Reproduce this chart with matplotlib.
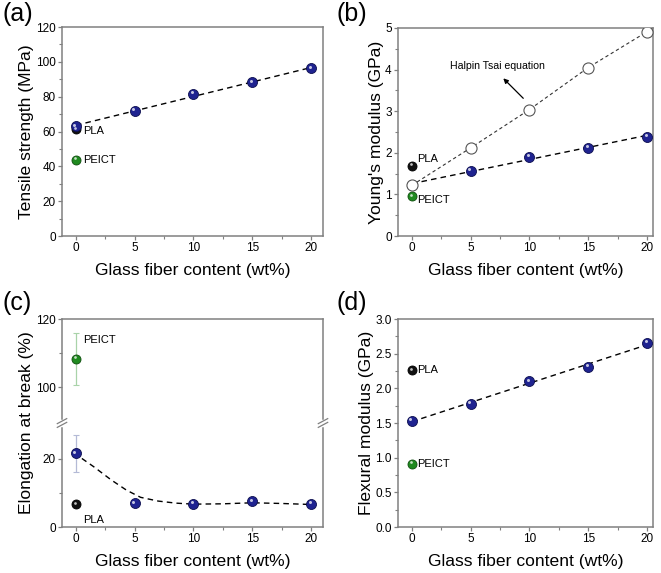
import numpy as np
import matplotlib
matplotlib.use("Agg")
import matplotlib.pyplot as plt
from matplotlib.transforms import offset_copy
from matplotlib.ticker import MultipleLocator, FixedLocator

plt.rcParams["font.family"] = ["Liberation Sans", "DejaVu Sans"]

# ---------- data ----------
gf = [0, 5, 10, 15, 20]

tensile = [62.9, 71.9, 81.5, 88.2, 96.2]
tensile_pla = 61.3
tensile_peict = 43.7

young = [1.22, 1.56, 1.91, 2.12, 2.39]
young_err = [0.0, 0.03, 0.04, 0.04, 0.08]
young_halpin = [1.22, 2.12, 3.04, 4.05, 4.91]
young_pla = 1.69
young_peict = 0.95

elong = [21.6, 6.9, 6.7, 7.5, 6.7]
elong_err = [5.4, 0.0, 0.0, 0.0, 0.0]
elong_pla = 6.7
elong_peict = 108.3
elong_peict_err = 7.6
# smooth guide line
elong_fit_x = [0.5, 1.5, 3, 4.3, 5.5, 7, 8.5, 10, 12.5, 15, 17.5, 20]
elong_fit_y = [20.1, 17.7, 13.8, 10.8, 8.7, 7.6, 7.0, 6.7, 6.8, 7.1, 6.9, 6.6]

flex = [1.53, 1.78, 2.10, 2.31, 2.65]
flex_pla = 2.26
flex_peict = 0.91

# ---------- styles ----------
BLUE = "#1f2390"
BLUE_EDGE = "#0d0f4f"
GREEN = "#1f8a1f"
GREEN_EDGE = "#0e4d0e"
BLACK = "#111111"
SPINE = "#808080"

fig = plt.figure(figsize=(6.61, 5.73), dpi=100)
W, H = 661, 573


def px_axes(left, top, right, bottom):
    return fig.add_axes([left / W, 1 - bottom / H, (right - left) / W, (bottom - top) / H])


def sphere(ax, x, y, color, edge, size=7.2, z=3):
    ax.plot(x, y, "o", ms=size, mfc=color, mec=edge, mew=0.6, ls="none", zorder=z)
    hl = offset_copy(ax.transData, fig=fig, x=-size * 0.15, y=size * 0.18, units="points")
    ax.plot(x, y, "o", ms=size * 0.3, mfc="white", mec="none", alpha=0.75,
            ls="none", zorder=z + 0.1, transform=hl)


def style(ax, xmax, ylabel):
    for s in ax.spines.values():
        s.set_color(SPINE)
        s.set_linewidth(1.1)
    ax.set_xlim(-1.19, xmax)
    ax.xaxis.set_major_locator(MultipleLocator(5))
    ax.xaxis.set_minor_locator(MultipleLocator(2.5))
    ax.tick_params(which="both", direction="out", color=SPINE, labelsize=8.5,
                   top=False, right=False, pad=1.5)
    ax.tick_params(which="major", length=3, width=0.9)
    ax.tick_params(which="minor", length=2, width=0.8)
    ax.set_xlabel("Glass fiber content (wt%)", fontsize=12.6, labelpad=6)
    ax.set_ylabel(ylabel, fontsize=12.6, labelpad=1)


lbl = dict(fontsize=8, va="center", ha="left", color="black")

# ---------- (a) tensile strength ----------
ax = px_axes(62, 27, 323, 236)
style(ax, 21.02, "Tensile strength (MPa)")
ax.set_ylim(0, 120)
ax.yaxis.set_major_locator(MultipleLocator(20))
ax.yaxis.set_minor_locator(MultipleLocator(10))
k = np.polyfit(gf, tensile, 1)
ax.plot(gf, np.polyval(k, gf), ls=(0, (4, 3)), color="black", lw=1.0, zorder=2)
sphere(ax, [0], [tensile_pla], BLACK, "black", size=6.5)
sphere(ax, gf, tensile, BLUE, BLUE_EDGE)
sphere(ax, [0], [tensile_peict], GREEN, GREEN_EDGE, size=6.5)
ax.text(0.6, 60.3, "PLA", **lbl)
ax.text(0.6, 43.6, "PEICT", **lbl)

# ---------- (b) Young's modulus ----------
ax = px_axes(398, 28, 653, 236)
style(ax, 20.51, "Young's modulus (GPa)")
ax.set_ylim(0, 5)
ax.yaxis.set_major_locator(MultipleLocator(1))
ax.yaxis.set_minor_locator(MultipleLocator(0.5))
k = np.polyfit(gf, young, 1)
ax.plot(gf, np.polyval(k, gf), ls=(0, (4, 3)), color="black", lw=1.0, zorder=2)
ax.plot(gf, young_halpin, ls=(0, (3, 2.5)), color="#333333", lw=0.8, zorder=2)
ax.errorbar(gf, young, yerr=young_err, fmt="none", ecolor="#b4bad6", elinewidth=0.8,
            capsize=2, capthick=0.8, zorder=2.5)
sphere(ax, gf, young, BLUE, BLUE_EDGE)
ax.plot(gf, young_halpin, "o", ms=8, mfc="white", mec="#555555", mew=0.8, zorder=4)
sphere(ax, [0], [young_pla], BLACK, "black", size=6.5)
sphere(ax, [0], [young_peict], GREEN, GREEN_EDGE, size=6.5)
ax.text(0.45, 1.84, "PLA", **lbl)
ax.text(0.45, 0.87, "PEICT", **lbl)
ax.annotate("", xy=(7.77, 3.79), xytext=(9.47, 3.31),
            arrowprops=dict(arrowstyle="-|>", color="black", lw=0.9,
                            mutation_scale=7, shrinkA=0, shrinkB=0))
ax.text(7.27, 4.09, "Halpin Tsai equation", fontsize=7.6, ha="center", va="center")

# ---------- (c) elongation at break (broken axis) ----------
BREAK_LO, BREAK_HI = 30.5, 89.5


def squash(v):
    v = np.asarray(v, dtype=float)
    return np.where(v <= BREAK_LO, v, v - (BREAK_HI - BREAK_LO))


ax = px_axes(62, 319, 323, 527)
style(ax, 21.02, "Elongation at break (%)")
ax.set_ylim(0, float(squash(120)))
ax.yaxis.set_major_locator(FixedLocator(squash([0, 20, 100, 120])))
ax.yaxis.set_minor_locator(FixedLocator(squash([10, 110])))
ax.set_yticklabels(["0", "20", "100", "120"])
ax.plot(elong_fit_x, elong_fit_y, ls=(0, (4, 3)), color="black", lw=1.0, zorder=2)
ax.errorbar(gf, elong, yerr=elong_err, fmt="none", ecolor="#b4bad6", elinewidth=0.9,
            capsize=2.5, capthick=0.8, zorder=2.5)
ax.errorbar([0], squash([elong_peict]), yerr=elong_peict_err, fmt="none",
            ecolor="#a9d3a9", elinewidth=0.9, capsize=2.5, capthick=0.8, zorder=2.5)
sphere(ax, gf, elong, BLUE, BLUE_EDGE)
sphere(ax, [0], [elong_pla], BLACK, "black", size=6.5)
sphere(ax, [0], squash([elong_peict]), GREEN, GREEN_EDGE, size=6.5)
ax.text(0.62, 2.0, "PLA", **lbl)
ax.text(0.62, float(squash(113.8)), "PEICT", **lbl)
# break marks on both spines
yb = BREAK_LO / float(squash(120))
for xs in (0, 1):
    ax.plot([xs, xs], [yb - 0.008, yb + 0.008], transform=ax.transAxes, color="white",
            lw=2.5, clip_on=False, zorder=5)
    for d in (-0.009, 0.009):
        ax.plot([xs - 0.018, xs + 0.018], [yb + d - 0.012, yb + d + 0.012],
                transform=ax.transAxes, color=SPINE, lw=0.9, clip_on=False, zorder=6)

# ---------- (d) flexural modulus ----------
ax = px_axes(398, 319, 653, 527)
style(ax, 20.51, "Flexural modulus (GPa)")
ax.set_ylim(0, 3.0)
ax.yaxis.set_major_locator(MultipleLocator(0.5))
ax.yaxis.set_minor_locator(MultipleLocator(0.25))
ax.yaxis.set_major_formatter(matplotlib.ticker.FormatStrFormatter("%.1f"))
k = np.polyfit(gf, flex, 1)
ax.plot(gf, np.polyval(k, gf), ls=(0, (4, 3)), color="black", lw=1.0, zorder=2)
sphere(ax, gf, flex, BLUE, BLUE_EDGE)
sphere(ax, [0], [flex_pla], BLACK, "black", size=6.5)
sphere(ax, [0], [flex_peict], GREEN, GREEN_EDGE, size=6.5)
ax.text(0.47, 2.26, "PLA", **lbl)
ax.text(0.47, 0.91, "PEICT", **lbl)

# ---------- panel labels ----------
for tx, ty, t in [(2, 2, "(a)"), (337, 2, "(b)"), (2, 291, "(c)"), (337, 291, "(d)")]:
    fig.text(tx / W, 1 - ty / H, t, fontsize=18, ha="left", va="top")

fig.savefig("out.png", dpi=100)
